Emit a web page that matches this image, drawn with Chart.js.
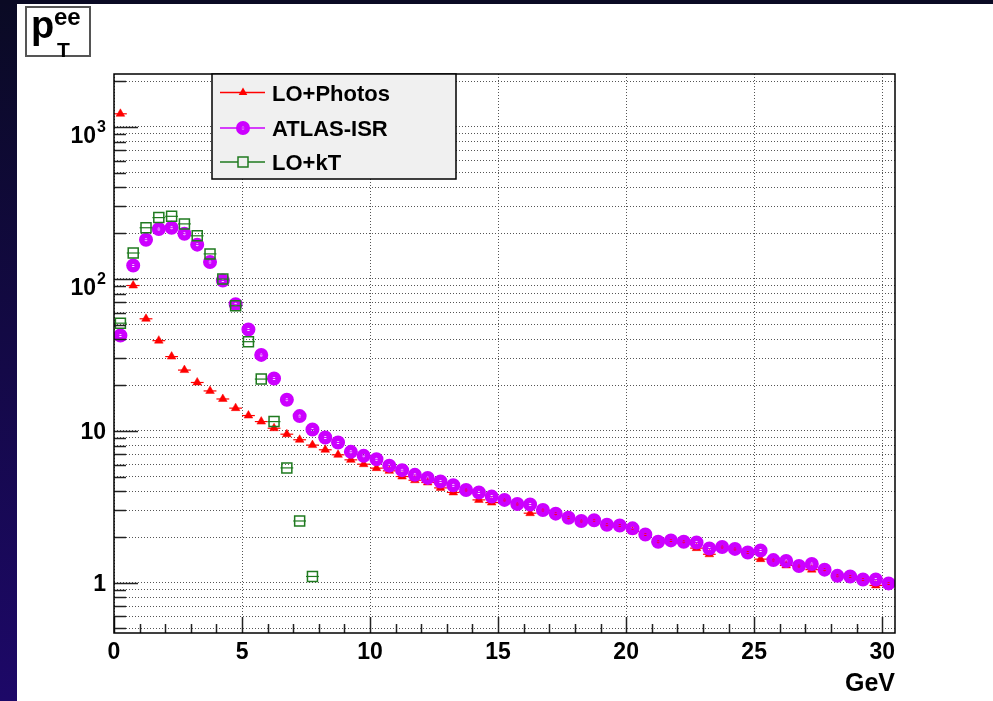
<!DOCTYPE html>
<html><head><meta charset="utf-8">
<script src="https://cdn.jsdelivr.net/npm/chart.js@4/dist/chart.umd.min.js"></script>
<style>html,body{margin:0;padding:0;background:#fff;overflow:hidden}canvas{display:block}</style>
</head><body>
<canvas id="c" width="993" height="701"></canvas>
<script>
// ---- data ----
const binCenters = [0.25,0.75,1.25,1.75,2.25,2.75,3.25,3.75,4.25,4.75,5.25,5.75,6.25,6.75,7.25,7.75,8.25,8.75,9.25,9.75,
  10.25,10.75,11.25,11.75,12.25,12.75,13.25,13.75,14.25,14.75,15.25,15.75,16.25,16.75,17.25,17.75,18.25,18.75,19.25,19.75,
  20.25,20.75,21.25,21.75,22.25,22.75,23.25,23.75,24.25,24.75,25.25,25.75,26.25,26.75,27.25,27.75,28.25,28.75,29.25,29.75,30.25];
const binHalfWidth = 0.25;
const loPhotos = [1220,90.4,54.6,39.2,30.8,25.1,20.8,18.3,16.2,14.1,12.6,11.5,10.4,9.5,8.73,8.05,7.5,6.95,6.44,6.03,
  5.68,5.45,5.0,4.73,4.57,4.21,3.93,4.0,3.51,3.37,3.48,3.25,2.87,3.0,2.83,2.67,2.54,2.56,2.40,2.37,
  2.18,2.07,1.85,1.89,1.83,1.69,1.54,1.70,1.64,1.57,1.43,1.40,1.30,1.28,1.22,1.21,1.10,1.09,1.04,0.96,0.98];
const atlasIsr = [42.4,122.5,181,213,217,198,168,129,97.6,68,46.4,31.6,22.1,16.0,12.5,10.2,9.04,8.38,7.27,6.84,
  6.50,5.9,5.51,5.13,4.90,4.64,4.38,4.08,3.93,3.69,3.51,3.30,3.27,3.01,2.85,2.68,2.55,2.58,2.41,2.38,
  2.28,2.08,1.86,1.90,1.86,1.84,1.68,1.72,1.67,1.58,1.63,1.41,1.39,1.29,1.33,1.22,1.11,1.10,1.05,1.05,0.99];
const loKt = [51.1,148,217,253,258,230,192,146,99.7,66.5,38.6,21.9,11.5,5.70,2.55,1.10];
const seriesNames = ['LO+Photos','ATLAS-ISR','LO+kT'];
const xTickValues = [0,5,10,15,20,25,30];
const xTickLabels = ['0','5','10','15','20','25','30'];
const yTickValues = [1,10,100,1000];
const yTickLabels = ['1','10','10^2','10^3'];
const xTitle = 'GeV';
const xMin = 0, xMax = 30.5, yMin = 0.467, yMax = 2230;

const RED = '#ff0000', MAG = '#cc00ff', GRN = '#1f7a1f';
const FONT = '"Liberation Sans", Arial, Helvetica, sans-serif';

function pts(vals){ return vals.map((v,i)=>({x:binCenters[i], y:v})); }

function drawTri(ctx,x,y,r,c){ctx.save();ctx.fillStyle=c;ctx.beginPath();ctx.moveTo(x,y-r);ctx.lineTo(x+r*0.866,y+r*0.5);ctx.lineTo(x-r*0.866,y+r*0.5);ctx.closePath();ctx.fill();ctx.restore();}
function drawRing(ctx,x,y,c){ctx.save();ctx.strokeStyle=c;ctx.lineWidth=5.5;ctx.beginPath();ctx.arc(x,y,4.25,0,Math.PI*2);ctx.stroke();ctx.restore();}
function drawSq(ctx,x,y,c){ctx.save();ctx.strokeStyle=c;ctx.lineWidth=1.5;ctx.strokeRect(x-5,y-5,10,10);ctx.restore();}

const bgPlugin = {
  id:'bg',
  beforeDraw(chart){
    const ctx=chart.ctx; ctx.save();
    ctx.fillStyle='#fff'; ctx.fillRect(0,0,chart.width,chart.height);
    const g=ctx.createLinearGradient(0,0,0,chart.height);
    g.addColorStop(0,'#0a0a24'); g.addColorStop(1,'#1d0868');
    ctx.fillStyle=g; ctx.fillRect(0,0,17,chart.height);
    ctx.fillStyle='#0a0a24'; ctx.fillRect(0,0,chart.width,4);
    ctx.restore();
  }
};

const errPlugin = {
  id:'errbars',
  beforeDatasetDraw(chart,args){
    const ds=chart.data.datasets[args.index]; const xs=chart.scales.x; const ctx=chart.ctx;
    ctx.save(); ctx.strokeStyle=ds.barColor; ctx.lineWidth=1.2;
    args.meta.data.forEach((el,i)=>{
      const d=ds.data[i];
      const x0=xs.getPixelForValue(d.x-binHalfWidth), x1=xs.getPixelForValue(d.x+binHalfWidth);
      ctx.beginPath(); ctx.moveTo(x0,el.y); ctx.lineTo(x1,el.y); ctx.stroke();
    });
    ctx.restore();
  }
};

const decorPlugin = {
  id:'decor',
  afterDatasetsDraw(chart){
    const ctx=chart.ctx, xa=chart.scales.x, ya=chart.scales.y;
    const {left,right,top,bottom}=chart.chartArea;
    ctx.save();
    // ticks
    ctx.strokeStyle='#222'; ctx.lineWidth=1.5;
    for(let v=0; v<=30; v++){
      const px=Math.round(xa.getPixelForValue(v))+0.5;
      const len = (v%5===0)?16:9;
      ctx.beginPath(); ctx.moveTo(px,bottom); ctx.lineTo(px,bottom-len); ctx.stroke();
    }
    ya.ticks.forEach(t=>{
      const py=Math.round(ya.getPixelForValue(t.value))+0.5;
      const major = yTickValues.includes(t.value);
      ctx.beginPath(); ctx.moveTo(left,py); ctx.lineTo(left+(major?24:12),py); ctx.stroke();
    });
    // frame
    ctx.strokeStyle='#000'; ctx.lineWidth=1.5;
    ctx.strokeRect(left,top,right-left,bottom-top);
    // y labels
    ctx.fillStyle='#000';
    yTickValues.forEach((v,i)=>{
      const py=ya.getPixelForValue(v); const lab=yTickLabels[i];
      const endX=106;
      if(lab.includes('^')){
        const [b,e]=lab.split('^');
        ctx.font='bold 16px '+FONT; const we=ctx.measureText(e).width;
        ctx.font='bold 23px '+FONT; const wb=ctx.measureText(b).width;
        ctx.textAlign='left'; ctx.textBaseline='alphabetic';
        ctx.fillText(b,endX-we-wb-1,py+16);
        ctx.font='bold 16px '+FONT; ctx.fillText(e,endX-we,py+5);
      } else {
        ctx.font='bold 23px '+FONT; ctx.textAlign='right'; ctx.textBaseline='alphabetic';
        ctx.fillText(lab,endX,py+8.5);
      }
    });
    // x labels
    ctx.font='bold 23px '+FONT; ctx.textAlign='center'; ctx.textBaseline='alphabetic';
    xTickValues.forEach((v,i)=>{ ctx.fillText(xTickLabels[i], xa.getPixelForValue(v), 659); });
    ctx.font='bold 25px '+FONT; ctx.textAlign='right';
    ctx.fillText(xTitle, right, 691);
    // legend
    const lx=212, ly=top, lw=244, lh=105;
    ctx.fillStyle='#f0f0f0'; ctx.fillRect(lx,ly,lw,lh);
    ctx.strokeStyle='#000'; ctx.lineWidth=1.5; ctx.strokeRect(lx,ly,lw,lh);
    const rows=[92.5,128,162];
    const cols=[RED,MAG,GRN];
    rows.forEach((ry,i)=>{
      ctx.strokeStyle=cols[i]; ctx.lineWidth=1.5;
      ctx.beginPath(); ctx.moveTo(220,ry); ctx.lineTo(265,ry); ctx.stroke();
      if(i===0) drawTri(ctx,243,ry,5,RED);
      if(i===1) drawRing(ctx,243,ry,MAG);
      if(i===2){ ctx.fillStyle='#f0f0f0'; ctx.fillRect(238,ry-5,10,10); drawSq(ctx,243,ry,GRN); }
      ctx.fillStyle='#000'; ctx.font='bold 22px '+FONT; ctx.textAlign='left'; ctx.textBaseline='alphabetic';
      ctx.fillText(seriesNames[i],272,ry+8);
    });
    // title box
    ctx.fillStyle='#fff'; ctx.fillRect(26,7,64,49);
    ctx.strokeStyle='#555'; ctx.lineWidth=2; ctx.strokeRect(26,7,64,49);
    ctx.fillStyle='#000'; ctx.textAlign='left';
    ctx.font='bold 38px '+FONT; ctx.fillText('p',31,38);
    ctx.font='bold 24px '+FONT; ctx.fillText('ee',54,25);
    ctx.font='bold 21px '+FONT; ctx.fillText('T',57,57);
    ctx.restore();
  }
};

new Chart(document.getElementById('c'), {
  type:'scatter',
  data:{ datasets:[
    { label:seriesNames[2], data:pts(loKt), order:0, pointStyle:'rect', pointRadius:7.07, pointHoverRadius:7.07,
      borderColor:GRN, backgroundColor:'rgba(0,0,0,0)', borderWidth:1.5, barColor:GRN },
    { label:seriesNames[1], data:pts(atlasIsr), order:1, pointStyle:'circle', pointRadius:4.25, pointHoverRadius:4.25,
      borderColor:MAG, backgroundColor:'rgba(0,0,0,0)', borderWidth:5.5, barColor:MAG },
    { label:seriesNames[0], data:pts(loPhotos), order:2, pointStyle:'triangle', pointRadius:5, pointHoverRadius:5,
      borderColor:RED, backgroundColor:RED, borderWidth:0.5, barColor:RED }
  ]},
  options:{
    responsive:false, animation:false, devicePixelRatio:1,
    events:[],
    layout:{ padding:{ left:114, top:74, right:98, bottom:68 } },
    plugins:{ legend:{display:false}, tooltip:{enabled:false}, title:{display:false} },
    scales:{
      x:{ type:'linear', min:xMin, max:xMax,
        afterBuildTicks(s){ s.ticks = xTickValues.map(v=>({value:v})); },
        afterFit(s){ s.height=0; },
        ticks:{display:false}, grid:{ color:'#555', lineWidth:1, drawTicks:false },
        border:{ display:false, dash:[1,2] } },
      y:{ type:'logarithmic', min:yMin, max:yMax,
        afterBuildTicks(s){
          const t=[];
          for(let d=0.1; d<=1000; d*=10){ for(let m=1;m<=9;m++){ const v=+(m*d).toPrecision(3); if(v>=yMin && v<=yMax) t.push({value:v}); } }
          s.ticks=t;
        },
        afterFit(s){ s.width=0; },
        ticks:{display:false}, grid:{ color:'#555', lineWidth:1, drawTicks:false },
        border:{ display:false, dash:[1,2] } }
    }
  },
  plugins:[bgPlugin, errPlugin, decorPlugin]
});
</script>
</body></html>
